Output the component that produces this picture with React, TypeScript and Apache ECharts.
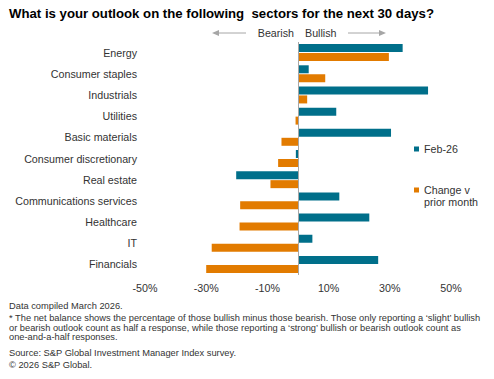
import React, { useEffect, useRef } from "react";
import * as echarts from "echarts";

const categories = [
  "Energy",
  "Consumer staples",
  "Industrials",
  "Utilities",
  "Basic materials",
  "Consumer discretionary",
  "Real estate",
  "Communications services",
  "Healthcare",
  "IT",
  "Financials",
];
const feb26 = [34.2, 3.5, 42.5, 12.5, 30.4, -0.7, -20.2, 13.5, 23.3, 4.7, 26.2];
const changeVPrior = [29.7, 8.9, 3.0, -0.8, -5.4, -6.5, -9.0, -18.9, -19.1, -28.2, -30.0];
const xTicks = { min: -50, max: 50, interval: 20 };

const FONT = "'Liberation Sans', Arial, Helvetica, sans-serif";
const TEAL = "#006f8a";
const ORANGE = "#e27b00";

export default function App() {
  const ref = useRef<HTMLDivElement>(null);
  useEffect(() => {
    document.body.style.margin = "0";
    if (!ref.current) return;
    const chart = echarts.init(ref.current, null, { renderer: "svg" });
    const foot = { fontSize: 9.3, fontFamily: FONT, fill: "#333", verticalAlign: "middle" };
    chart.setOption({
      animation: false,
      backgroundColor: "#fff",
      textStyle: { fontFamily: FONT },
      grid: { left: 145, right: 43, top: 42, bottom: 104, containLabel: false },
      xAxis: {
        type: "value",
        min: xTicks.min,
        max: xTicks.max,
        interval: xTicks.interval,
        splitLine: { show: false },
        axisLine: { show: false },
        axisTick: { show: false },
        axisLabel: {
          formatter: "{value}%",
          fontSize: 10.7,
          color: "#333",
          fontFamily: FONT,
          margin: 7,
        },
      },
      yAxis: {
        type: "category",
        data: categories,
        inverse: true,
        axisLine: { show: false },
        axisTick: { show: false },
        axisLabel: { fontSize: 10.7, color: "#333", fontFamily: FONT, margin: 8 },
      },
      legend: [
        {
          data: ["Feb-26"],
          orient: "vertical",
          left: 414,
          top: 143,
          padding: 0,
          icon: "rect",
          itemWidth: 5,
          itemHeight: 5,
          itemGap: 0,
          textStyle: { fontSize: 10.7, color: "#333", fontFamily: FONT, lineHeight: 12 },
        },
        {
          data: ["Change v prior month"],
          orient: "vertical",
          left: 414,
          top: 184,
          padding: 0,
          icon: "path://M0,0L5,0L5,5L0,5Z M0,17L5,17",
          itemWidth: 5,
          itemHeight: 17,
          itemGap: 0,
          formatter: () => "Change v\nprior month",
          textStyle: {
            fontSize: 10.7,
            color: "#333",
            fontFamily: FONT,
            lineHeight: 12,
          },
        },
      ],
      series: [
        {
          name: "Feb-26",
          type: "bar",
          data: feb26,
          barWidth: 8,
          barGap: "12%",
          itemStyle: { color: TEAL },
          markLine: {
            silent: true,
            symbol: ["none", "none"],
            label: { show: false },
            lineStyle: { color: "#a6a6a6", type: "solid", width: 1 },
            data: [{ xAxis: 0 }],
          },
        },
        {
          name: "Change v prior month",
          type: "bar",
          data: changeVPrior,
          barWidth: 8,
          barGap: "12%",
          itemStyle: { color: ORANGE },
        },
      ],
      graphic: [
        {
          type: "text",
          left: 9,
          top: 7,
          style: {
            text: "What is your outlook on the following  sectors for the next 30 days?",
            fontSize: 13.2,
            fontWeight: "bold",
            fontFamily: FONT,
            fill: "#000",
          },
        },
        {
          type: "text",
          x: 294,
          y: 33,
          style: { text: "Bearish", fontSize: 10.7, fontFamily: FONT, fill: "#333", align: "right", verticalAlign: "middle" },
        },
        {
          type: "text",
          x: 305,
          y: 33,
          style: { text: "Bullish", fontSize: 10.7, fontFamily: FONT, fill: "#333", align: "left", verticalAlign: "middle" },
        },
        { type: "line", shape: { x1: 217, y1: 33, x2: 246, y2: 33 }, style: { stroke: "#a6a6a6", lineWidth: 1 } },
        { type: "polygon", shape: { points: [[212, 33], [219, 30], [219, 36]] }, style: { fill: "#a6a6a6" } },
        { type: "line", shape: { x1: 348, y1: 33, x2: 381, y2: 33 }, style: { stroke: "#a6a6a6", lineWidth: 1 } },
        { type: "polygon", shape: { points: [[386, 33], [379, 30], [379, 36]] }, style: { fill: "#a6a6a6" } },
        { type: "text", x: 9, y: 305.7, style: { ...foot, text: "Data compiled March 2026." } },
        {
          type: "text",
          x: 9,
          y: 318.3,
          style: {
            ...foot,
            text: "* The net balance shows the percentage of those bullish minus those bearish. Those only reporting a \u2018slight\u2019 bullish",
          },
        },
        {
          type: "text",
          x: 9,
          y: 327.8,
          style: {
            ...foot,
            text: "or bearish outlook count as half a response, while those reporting a \u2018strong\u2019 bullish or bearish outlook count as",
          },
        },
        { type: "text", x: 9, y: 337.3, style: { ...foot, text: "one-and-a-half responses." } },
        { type: "text", x: 9, y: 353, style: { ...foot, text: "Source: S&P Global Investment Manager Index survey." } },
        { type: "text", x: 9, y: 365, style: { ...foot, text: "\u00a9 2026 S&P Global." } },
      ],
    });
    return () => chart.dispose();
  }, []);
  return <div ref={ref} style={{ width: 494, height: 379 }} />;
}
